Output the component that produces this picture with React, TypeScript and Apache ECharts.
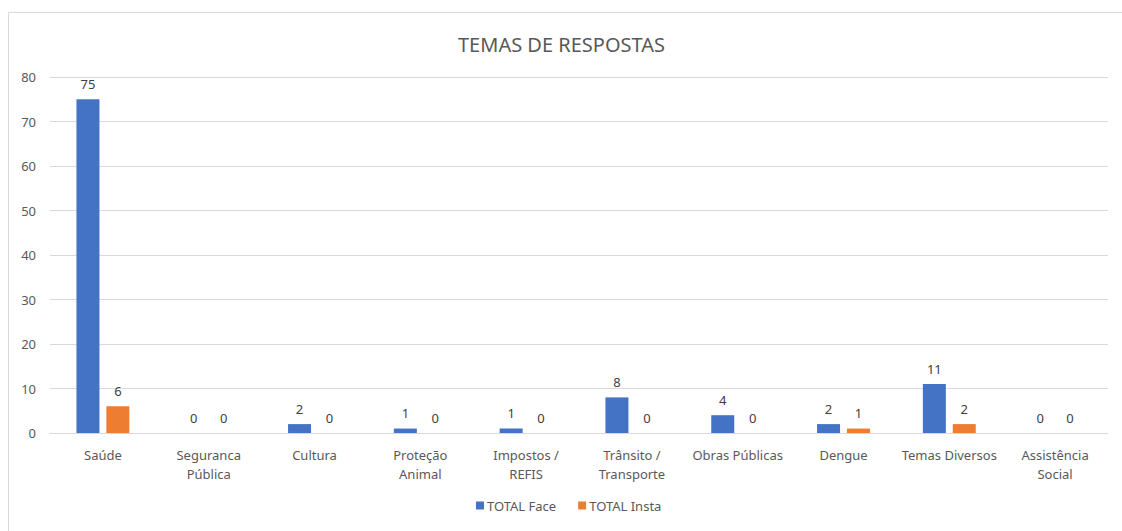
import React, { useEffect, useRef } from "react";
import * as echarts from "echarts";

const categories = [
  "Saúde",
  "Seguranca\nPública",
  "Cultura",
  "Proteção\nAnimal",
  "Impostos /\nREFIS",
  "Trânsito /\nTransporte",
  "Obras Públicas",
  "Dengue",
  "Temas Diversos",
  "Assistência\nSocial",
];
const totalFace = [75, 0, 2, 1, 1, 8, 4, 2, 11, 0];
const totalInsta = [6, 0, 0, 0, 0, 0, 0, 1, 2, 0];
const yTicks = [0, 10, 20, 30, 40, 50, 60, 70, 80];

const FONT = "Noto Sans";
const GREY = "#595959";

export default function App() {
  const ref = useRef<HTMLDivElement>(null);
  useEffect(() => {
    document.body.style.margin = "0";
    const chart = echarts.init(ref.current!, null, { renderer: "svg" });
    chart.setOption({
      animation: false,
      backgroundColor: "#ffffff",
      textStyle: { fontFamily: FONT },
      title: {
        text: "TEMAS DE RESPOSTAS",
        left: 453,
        top: 29,
        textStyle: { fontFamily: FONT, fontSize: 20, fontWeight: "normal", color: GREY },
      },
      graphic: [
        {
          type: "rect",
          shape: { x: 8.5, y: 12.5, width: 1200, height: 600 },
          style: { fill: "none", stroke: "#d9d9d9", lineWidth: 1 },
          silent: true,
          z: -10,
        },
      ],
      legend: {
        bottom: 14,
        left: 471,
        itemWidth: 8,
        itemHeight: 8,
        itemGap: 22,
        icon: "rect",
        textStyle: { fontFamily: FONT, fontSize: 13, color: GREY, padding: [0, 0, 0, -2] },
        data: ["TOTAL Face", "TOTAL Insta"],
      },
      grid: { left: 50, right: 14, top: 77, bottom: 98, containLabel: false },
      xAxis: {
        type: "category",
        data: categories,
        axisTick: { show: false },
        axisLine: { lineStyle: { color: "#d9d9d9" } },
        axisLabel: {
          interval: 0,
          color: GREY,
          fontFamily: FONT,
          fontSize: 13,
          margin: 12,
          lineHeight: 19,
        },
      },
      yAxis: {
        type: "value",
        min: yTicks[0],
        max: yTicks[yTicks.length - 1],
        interval: 10,
        axisLine: { show: false },
        axisTick: { show: false },
        splitLine: { lineStyle: { color: "#d9d9d9" } },
        axisLabel: { color: GREY, fontFamily: FONT, fontSize: 13, margin: 14 },
      },
      series: [
        {
          name: "TOTAL Face",
          type: "bar",
          data: totalFace,
          barWidth: 23,
          barGap: "30%",
          itemStyle: { color: "#4472c4" },
          label: {
            show: true,
            position: "top",
            distance: 9,
            color: "#404040",
            fontFamily: FONT,
            fontSize: 13,
          },
        },
        {
          name: "TOTAL Insta",
          type: "bar",
          data: totalInsta,
          barWidth: 23,
          barGap: "30%",
          itemStyle: { color: "#ed7d31" },
          label: {
            show: true,
            position: "top",
            distance: 9,
            color: "#404040",
            fontFamily: FONT,
            fontSize: 13,
          },
        },
      ],
    });
    return () => chart.dispose();
  }, []);
  return <div ref={ref} style={{ width: 1122, height: 531 }} />;
}
